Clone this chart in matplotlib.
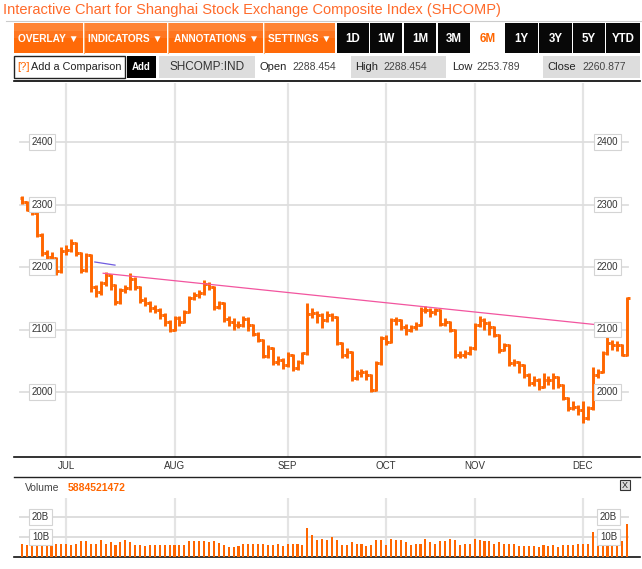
import matplotlib
matplotlib.use("Agg")
import matplotlib.pyplot as plt
from matplotlib.collections import LineCollection
from matplotlib.patches import Rectangle
import matplotlib.transforms as mtransforms
import pandas as pd

plt.rcParams['font.family'] = ['Liberation Sans', 'DejaVu Sans']

W, H = 642, 569
ORANGE = '#ff6600'

# trading days shown (6M up to 14 Dec 2012), Chinese market holidays removed
holidays = ['2012-06-22', '2012-10-01', '2012-10-02', '2012-10-03',
            '2012-10-04', '2012-10-05']

closes = [2304, 2292, 2286, 2252, 2222, 2216, 2214, 2193, 2226, 2227,
          2238, 2222, 2195, 2219, 2168, 2160, 2174, 2187, 2171, 2144,
          2163, 2166, 2181, 2168, 2147, 2142, 2134, 2131, 2123, 2112,
          2099, 2118, 2112, 2128, 2150, 2155, 2158, 2173, 2168, 2136,
          2142, 2117, 2112, 2107, 2107, 2117, 2107, 2093, 2083, 2058,
          2070, 2048, 2051, 2043, 2059, 2038, 2048, 2062, 2125, 2126,
          2123, 2115, 2123, 2120, 2078, 2059, 2064, 2022, 2030, 2032,
          2027, 2003, 2046, 2086, 2080, 2115, 2115, 2104, 2099, 2104,
          2107, 2131, 2131, 2128, 2131, 2109, 2112, 2099, 2059, 2059,
          2062, 2070, 2107, 2115, 2110, 2104, 2091, 2067, 2075, 2046,
          2048, 2043, 2027, 2014, 2019, 2008, 2019, 2019, 2024, 2011,
          1990, 1974, 1976, 1971, 1958, 1974, 2027, 2032, 2062, 2078,
          2075, 2075, 2059, 2150]

opens = [2311, 2304, 2292, 2286, 2252, 2222, 2216, 2214, 2193, 2226,
         2227, 2238, 2222, 2195, 2219, 2168, 2160, 2174, 2187, 2171,
         2144, 2163, 2166, 2181, 2168, 2147, 2142, 2134, 2131, 2123,
         2112, 2099, 2118, 2112, 2128, 2150, 2155, 2158, 2173, 2168,
         2136, 2142, 2117, 2112, 2107, 2107, 2117, 2107, 2093, 2083,
         2058, 2070, 2048, 2051, 2043, 2059, 2038, 2048, 2062, 2125,
         2126, 2123, 2115, 2123, 2120, 2078, 2059, 2064, 2022, 2030,
         2032, 2027, 2003, 2046, 2086, 2080, 2115, 2115, 2104, 2099,
         2104, 2107, 2131, 2131, 2128, 2131, 2109, 2112, 2099, 2059,
         2059, 2062, 2070, 2107, 2115, 2110, 2104, 2091, 2067, 2075,
         2046, 2048, 2043, 2027, 2014, 2019, 2008, 2019, 2019, 2024,
         2011, 1990, 1974, 1976, 1971, 1958, 1974, 2027, 2032, 2062,
         2078, 2075, 2075, 2059]

highs = [2313, 2306, 2295, 2288, 2255, 2228, 2224, 2216, 2232, 2236,
         2245, 2240, 2224, 2223, 2221, 2172, 2178, 2192, 2189, 2173,
         2167, 2172, 2190, 2184, 2170, 2152, 2146, 2140, 2134, 2126,
         2115, 2122, 2121, 2132, 2153, 2160, 2163, 2179, 2176, 2170,
         2146, 2144, 2121, 2118, 2114, 2121, 2120, 2109, 2096, 2085,
         2075, 2072, 2057, 2055, 2064, 2061, 2052, 2064, 2142, 2134,
         2130, 2127, 2129, 2126, 2122, 2080, 2070, 2066, 2036, 2037,
         2035, 2029, 2050, 2090, 2092, 2119, 2120, 2117, 2109, 2108,
         2112, 2136, 2138, 2134, 2135, 2133, 2118, 2114, 2101, 2066,
         2068, 2073, 2110, 2122, 2118, 2113, 2106, 2093, 2079, 2077,
         2053, 2050, 2045, 2030, 2026, 2022, 2030, 2026, 2031, 2026,
         2013, 1992, 1986, 1980, 1986, 1978, 2040, 2037, 2066, 2088,
         2084, 2081, 2077, 2152]

lows = [2301, 2289, 2283, 2248, 2218, 2212, 2210, 2188, 2190, 2220,
        2224, 2218, 2190, 2192, 2160, 2152, 2156, 2170, 2164, 2140,
        2141, 2158, 2163, 2164, 2143, 2137, 2128, 2126, 2117, 2106,
        2096, 2097, 2105, 2110, 2126, 2147, 2150, 2156, 2163, 2131,
        2133, 2112, 2106, 2100, 2102, 2104, 2097, 2089, 2080, 2054,
        2055, 2043, 2044, 2037, 2040, 2033, 2035, 2045, 2060, 2118,
        2110, 2103, 2112, 2114, 2075, 2054, 2055, 2018, 2019, 2024,
        2020, 2000, 2001, 2044, 2076, 2078, 2108, 2100, 2092, 2096,
        2100, 2105, 2126, 2120, 2124, 2105, 2105, 2096, 2054, 2054,
        2055, 2060, 2068, 2104, 2100, 2092, 2088, 2063, 2065, 2042,
        2041, 2030, 2022, 2010, 2010, 2004, 2006, 2012, 2005, 2007,
        1988, 1970, 1971, 1964, 1951, 1955, 1972, 2022, 2030, 2060,
        2068, 2066, 2057, 2058]

# volume in billions of shares
volumes = [6.3, 5.8, 6.3, 6.5, 6.2, 5.7, 6.2, 6.7, 6.7, 6.7,
           6.2, 6.5, 7.8, 7.8, 6.5, 6.3, 8.7, 6.3, 7.3, 6.2,
           7.3, 8.3, 7.3, 6.2, 6.2, 5.5, 5.8, 5.8, 5.8, 5.8,
           6.2, 5.8, 5.8, 5.8, 7.8, 8.2, 7.8, 7.8, 7.3, 7.8,
           7.2, 5.8, 5.0, 5.0, 5.3, 6.5, 6.5, 6.5, 6.5, 6.5,
           5.8, 5.8, 6.5, 5.3, 6.5, 6.5, 6.5, 5.8, 14.5, 10.8,
           8.7, 8.8, 8.7, 9.8, 8.3, 5.8, 6.2, 7.3, 6.7, 6.5,
           5.7, 5.8, 8.3, 8.3, 6.2, 8.8, 8.3, 8.3, 7.3, 6.2,
           6.5, 6.5, 9.2, 7.3, 6.7, 7.8, 7.8, 9.2, 8.7, 6.2,
           6.7, 6.7, 8.8, 8.3, 7.8, 7.8, 6.7, 7.3, 6.5, 6.7,
           6.7, 5.7, 5.7, 5.7, 5.3, 5.0, 5.8, 5.3, 5.8, 5.0,
           6.2, 5.8, 5.8, 6.5, 6.7, 6.7, 12.5, 8.7, 7.0, 7.0,
           7.0, 7.0, 7.8, 16.7]

price_levels = [2000, 2100, 2200, 2300, 2400]
volume_levels = [10, 20]
volume_labels = ['10B', '20B']

# drawn annotations: (bar index, price)
trend_x = [16.5, 116.4]
trend_y = [2190, 2108]
short_x = [14.8, 18.9]
short_y = [2208, 2203]

dates = pd.bdate_range('2012-06-18', '2012-12-14')
dates = dates[~dates.isin(pd.to_datetime(holidays))]
n = min(len(dates), len(closes))
month_idx = [i for i in range(1, n) if dates[i].month != dates[i - 1].month]
month_lbl = [dates[i].strftime('%b').upper() for i in month_idx]

fig = plt.figure(figsize=(W / 100, H / 100), dpi=100)


def px_axes(x0, y0, x1, y1):
    return fig.add_axes([x0 / W, 1 - y1 / H, (x1 - x0) / W, (y1 - y0) / H])


# ---------- header / toolbar in pixel coordinates ----------
ov = px_axes(0, 0, W, H)
ov.set_xlim(0, W)
ov.set_ylim(H, 0)
ov.axis('off')

ov.text(3, 10, 'Interactive Chart for Shanghai Stock Exchange Composite Index (SHCOMP)',
        color='#ff6a2a', fontsize=10.5, va='center', ha='left')
ov.plot([6, 642], [20.5, 20.5], color='#cccccc', lw=0.8)

orange_btns = [('OVERLAY ▼', 14, 83), ('INDICATORS ▼', 84, 167),
               ('ANNOTATIONS ▼', 169, 263), ('SETTINGS ▼', 265, 335)]
for lbl, x0, x1 in orange_btns:
    ov.add_patch(Rectangle((x0, 23), x1 - x0, 30, fc='#ff6a08', ec='none'))
    ov.add_patch(Rectangle((x0, 23), x1 - x0, 8, fc='#ff8434', ec='none'))
    ov.add_patch(Rectangle((x0, 31), x1 - x0, 7, fc='#ff7620', ec='none'))
    ov.text((x0 + x1) / 2, 38.5, lbl, color='white', fontsize=7.3, fontweight='bold',
            ha='center', va='center')
for xs in (83.5, 168, 264):
    ov.plot([xs, xs], [23, 53], color='#ffb070', lw=0.8)

range_btns = [('1D', 337, 369), ('1W', 370, 402), ('1M', 404, 436), ('3M', 438, 470),
              ('6M', 471, 504), ('1Y', 505, 538), ('3Y', 539, 572), ('5Y', 573, 605),
              ('YTD', 606, 640)]
for lbl, x0, x1 in range_btns:
    sel = lbl == '6M'
    ov.add_patch(Rectangle((x0, 23), x1 - x0, 30, fc='white' if sel else '#080808',
                           ec='none'))
    ov.text((x0 + x1) / 2, 38.5, lbl, color=ORANGE if sel else 'white', fontsize=8.3,
            fontweight='bold', ha='center', va='center')

# second row
ov.add_patch(Rectangle((14, 56), 111, 22, fc='white', ec='#222222', lw=1))
ov.text(17, 67, '[?]', color=ORANGE, fontsize=8, va='center')
ov.text(31, 67, 'Add a Comparison', color='#222222', fontsize=7.8, va='center')
ov.add_patch(Rectangle((127, 56), 29, 22, fc='black', ec='none'))
ov.text(141.5, 67, 'Add', color='white', fontsize=7, fontweight='bold',
        ha='center', va='center')
ov.add_patch(Rectangle((159, 56), 96, 22, fc='#dddddd', ec='none'))
ov.text(207, 67, 'SHCOMP:IND', color='#333333', fontsize=8.5, ha='center', va='center')
ov.add_patch(Rectangle((351, 56), 95, 22, fc='#dddddd', ec='none'))
ov.add_patch(Rectangle((543, 56), 97, 22, fc='#dddddd', ec='none'))
for name, val, xn, xv in [('Open', '2288.454', 259, 292), ('High', '2288.454', 355, 383),
                          ('Low', '2253.789', 452, 476), ('Close', '2260.877', 547, 582)]:
    ov.text(xn, 67, name, color='#222222', fontsize=8, va='center')
    ov.text(xv, 67, val, color='#444444', fontsize=7.5, va='center')

ov.plot([14, 640], [80.5, 80.5], color='black', lw=1.2)
ov.plot([14, 640], [477, 477], color='#222222', lw=1.0)

ov.text(605, 100, 'Print', color='#333333', fontsize=6.5, fontweight='bold',
        ha='center', va='center')

ov.text(25, 488, 'Volume', color='#444444', fontsize=7.5, va='center')
ov.text(68, 488, '5884521472', color=ORANGE, fontsize=7.5, fontweight='bold', va='center')
ov.add_patch(Rectangle((620, 480), 10, 10, fc='#dddddd', ec='#333333', lw=0.8))
ov.text(625, 485.5, 'X', color='#222222', fontsize=6.5, ha='center', va='center')

# ---------- price panel ----------
S = 4.92                    # pixels per trading day
X0 = 22                     # pixel of first bar
L_PX, R_PX = 14, 640


def setup_xaxis(ax):
    ax.set_xlim(-(X0 - L_PX) / S, (R_PX - X0) / S)
    for m in month_idx:
        ax.axvline(m, color='#e4e4e4', lw=1.6, zorder=0)
    for s in ['top', 'left', 'right']:
        ax.spines[s].set_visible(False)
    ax.spines['bottom'].set_color('#111111')
    ax.spines['bottom'].set_linewidth(1.2)
    ax.set_yticks([])


def box_labels(ax, levels, labels, xl, xr):
    trans = mtransforms.blended_transform_factory(ax.transAxes, ax.transData)
    for lv, lb in zip(levels, labels):
        for xc in (xl, xr):
            ax.text(xc, lv, lb, transform=trans, ha='center', va='center',
                    fontsize=7, color='#333333', zorder=5,
                    bbox=dict(boxstyle='square,pad=0.28', fc='white', ec='#d4d4d4', lw=0.8))


ax = px_axes(L_PX, 83, R_PX, 457)
setup_xaxis(ax)
ax.set_ylim(2400 - (457 - 142) * 1.6, 2400 + (142 - 83) * 1.6)
g0, g1 = (20 - L_PX) / (R_PX - L_PX), (628 - L_PX) / (R_PX - L_PX)
for lv in price_levels:
    ax.axhline(lv, g0, g1, color='#dedede', lw=1.3, zorder=0)
ax.set_xticks(month_idx)
ax.set_xticklabels(month_lbl, fontsize=7, color='#333333')
ax.tick_params(axis='x', length=0, pad=3)

segs = []
for i in range(n):
    segs.append([(i, lows[i]), (i, highs[i])])
    segs.append([(i - 0.5, opens[i]), (i, opens[i])])
    segs.append([(i, closes[i]), (i + 0.5, closes[i])])
ax.add_collection(LineCollection(segs, colors=ORANGE, linewidths=2.1, zorder=3))

ax.plot(trend_x, trend_y, color='#f2559f', lw=0.9, zorder=4)
ax.plot(short_x, short_y, color='#6f5ce0', lw=0.9, zorder=4)

box_labels(ax, price_levels, [str(v) for v in price_levels],
           (42 - L_PX) / (R_PX - L_PX), (607.5 - L_PX) / (R_PX - L_PX))

# ---------- volume panel ----------
vax = px_axes(L_PX, 498, R_PX, 557)
setup_xaxis(vax)
vax.set_ylim(0, (557 - 498) / 2)
vax.set_xticks([])
for lv in volume_levels:
    vax.axhline(lv, g0, g1, color='#dedede', lw=1.4, zorder=0)
vax.bar(range(n), volumes[:n], width=0.42, color=ORANGE, zorder=3)
box_labels(vax, volume_levels, volume_labels,
           (40.5 - L_PX) / (R_PX - L_PX), (608.5 - L_PX) / (R_PX - L_PX))

fig.savefig('out.png', dpi=100)
